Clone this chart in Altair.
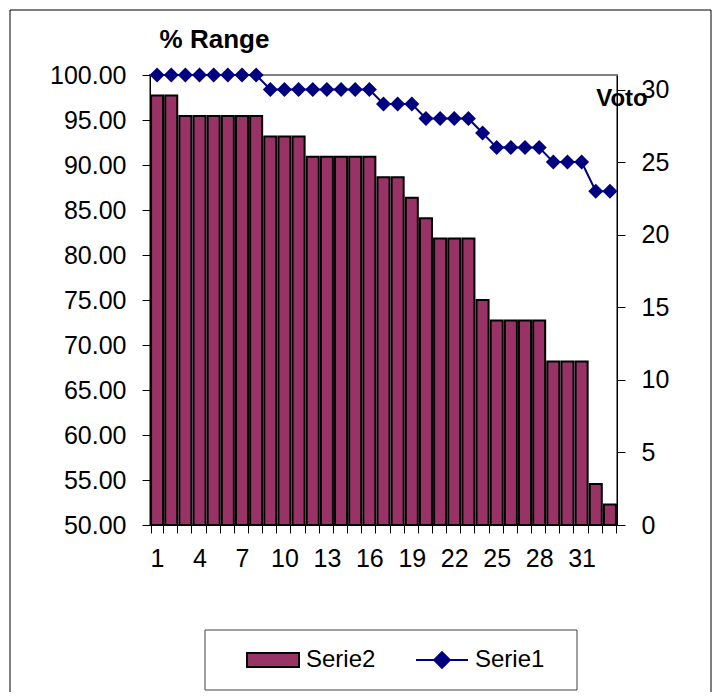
import altair as alt
import pandas as pd

# ---- data ----
categories = list(range(1, 34))
serie2 = [97.73, 97.73, 95.45, 95.45, 95.45, 95.45, 95.45, 95.45,
          93.18, 93.18, 93.18, 90.91, 90.91, 90.91, 90.91, 90.91,
          88.64, 88.64, 86.36, 84.09, 81.82, 81.82, 81.82, 75.00,
          72.73, 72.73, 72.73, 72.73, 68.18, 68.18, 68.18, 54.55, 52.27]
serie1 = [31, 31, 31, 31, 31, 31, 31, 31,
          30, 30, 30, 30, 30, 30, 30, 30,
          29, 29, 29, 28, 28, 28, 28, 27,
          26, 26, 26, 26, 25, 25, 25, 23, 23]
left_ticks = [50, 55, 60, 65, 70, 75, 80, 85, 90, 95, 100]
right_ticks = [0, 5, 10, 15, 20, 25, 30]
series_names = ["Serie2", "Serie1"]
series_colors = ["#993366", "#000080"]

bars_df = pd.DataFrame({"cat": categories, "value": serie2, "series": series_names[0]})
line_df = pd.DataFrame({"cat": categories, "value": serie1, "series": series_names[1]})

FONT = "Liberation Sans"
RECT_PATH = "M-1,-0.27L1,-0.27L1,0.27L-1,0.27Z"
LINE_DIAMOND_PATH = "M-1,0L1,0M0,-0.3L0.3,0L0,0.3L-0.3,0Z"

x_enc = alt.X(
    "cat:O",
    scale=alt.Scale(paddingInner=0.15, paddingOuter=0.075),
    axis=alt.Axis(
        title=None, labelAngle=0, labelOverlap=False,
        labelExpr="datum.value % 3 == 1 ? datum.label : ''",
        tickBand="extent", tickSize=8, labelPadding=13,
        labelFontSize=25, labelFont=FONT, labelColor="black",
        domainColor="black", tickColor="black",
    ),
)

legend_common = dict(
    title=None, orient="none", legendY=558, direction="horizontal", padding=0,
    symbolSize=2704, labelFontSize=24, labelFont=FONT, labelColor="black",
    labelOffset=6, symbolOpacity=1,
)
fill_enc = alt.Fill(
    "series:N",
    scale=alt.Scale(domain=[series_names[0]], range=[series_colors[0]]),
    legend=alt.Legend(legendX=96, symbolType=RECT_PATH, symbolStrokeColor="black",
                      symbolStrokeWidth=2, **legend_common),
)
stroke_enc = alt.Stroke(
    "series:N",
    scale=alt.Scale(domain=[series_names[1]], range=[series_colors[1]]),
    legend=alt.Legend(legendX=265, symbolType=LINE_DIAMOND_PATH,
                      symbolFillColor=series_colors[1], symbolStrokeWidth=2,
                      **legend_common),
)

y_left = alt.Y(
    "value:Q",
    scale=alt.Scale(domain=[50, 100], zero=False, nice=False),
    axis=alt.Axis(
        orient="left", title="% Range", titleAngle=0, titleX=64, titleY=-28,
        titleAlign="center", titleBaseline="alphabetic", titleFontSize=26,
        titleFontWeight="bold", titleFont=FONT, titleColor="black",
        values=left_ticks, format=".2f", labelFontSize=25, labelFont=FONT,
        labelColor="black", tickSize=8, labelPadding=16, grid=False,
        domainColor="black", tickColor="black",
    ),
)
y_right = alt.Y(
    "value:Q",
    scale=alt.Scale(domain=[0, 31], nice=False),
    axis=alt.Axis(
        orient="right", title="Voto", titleAngle=0, titleX=4.5, titleY=30,
        titleAlign="center", titleBaseline="alphabetic", titleFontSize=24,
        titleFontWeight="bold", titleFont=FONT, titleColor="black",
        values=right_ticks, format="d", labelFontSize=25, labelFont=FONT,
        labelColor="black", tickSize=8, labelPadding=16, grid=False,
        domainColor="black", tickColor="black",
    ),
)

one = alt.Data(values=[{"k": 1}])
frame = alt.Chart(one).mark_rect(filled=False, stroke="black", strokeWidth=1).encode(
    x=alt.value(-140), x2=alt.value(561), y=alt.value(-65), y2=alt.value(640)
)
legend_box = alt.Chart(one).mark_rect(filled=False, stroke="#404040", strokeWidth=1).encode(
    x=alt.value(55), x2=alt.value(427), y=alt.value(555), y2=alt.value(615)
)

bars = alt.Chart(bars_df).mark_bar(stroke="black", strokeWidth=2).encode(
    x=x_enc, y=y_left, y2=alt.datum(50), fill=fill_enc
)
line = alt.Chart(line_df).mark_line(strokeWidth=2).encode(x=x_enc, y=y_right, stroke=stroke_enc)
points = alt.Chart(line_df).mark_point(
    shape="diamond", filled=True, size=225, opacity=1, color=series_colors[1]
).encode(x=x_enc, y=y_right)
right = alt.layer(line, points)

chart = (
    alt.layer(frame, legend_box, bars, right)
    .resolve_scale(y="independent")
    .properties(
        width=467, height=450,
        padding={"left": 142, "top": 67, "right": 95, "bottom": 167},
        autosize=alt.AutoSizeParams(type="none"),
        background="white",
    )
    .configure_view(stroke="#808080", strokeWidth=2)
)

chart.save("out.html", embed_options={"renderer": "svg", "actions": False})
